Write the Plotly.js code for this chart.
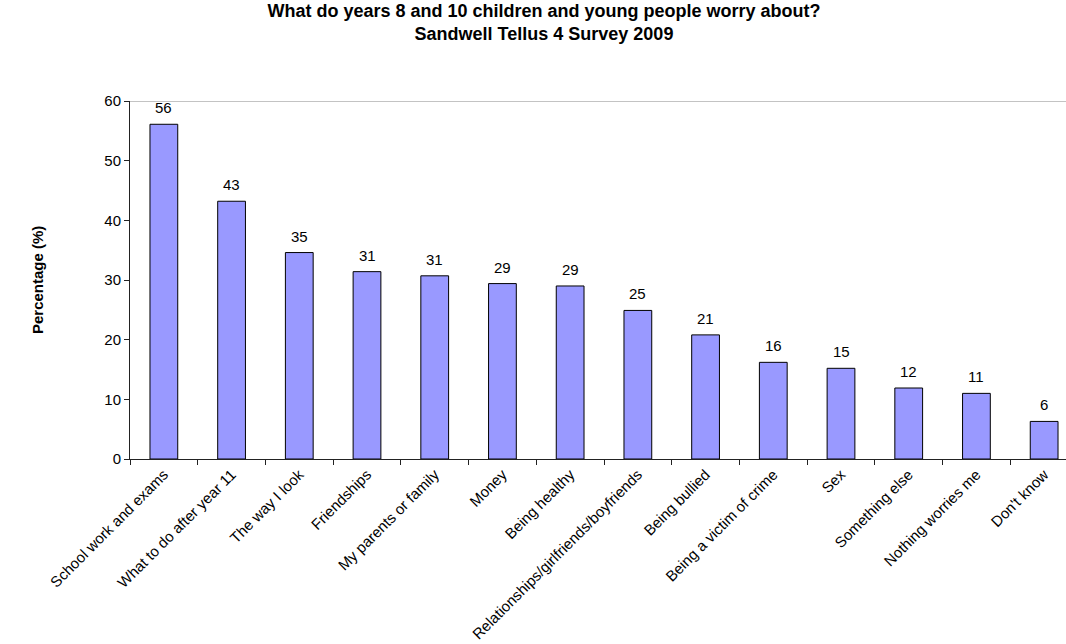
<!DOCTYPE html>
<html>
<head>
<meta charset="utf-8">
<script src="https://cdn.plot.ly/plotly-3.0.1.min.js"></script>
<style>
html,body{margin:0;padding:0;overflow:hidden;background:#fff;width:1066px;height:644px;}
#chart{width:1090px;height:644px;}
</style>
</head>
<body>
<div id="chart"></div>
<script>
const categories = [
  "School work and exams",
  "What to do after year 11",
  "The way I look",
  "Friendships",
  "My parents or family",
  "Money",
  "Being healthy",
  "Relationships/girlfriends/boyfriends",
  "Being bullied",
  "Being a victim of crime",
  "Sex",
  "Something else",
  "Nothing worries me",
  "Don't know"
];
const values = [56.1, 43.2, 34.6, 31.4, 30.7, 29.4, 29.0, 24.9, 20.8, 16.2, 15.2, 11.9, 11.0, 6.3];
const valueLabels = ["56","43","35","31","31","29","29","25","21","16","15","12","11","6"];
const yTicks = [0, 10, 20, 30, 40, 50, 60];
const yMax = 60;

const FONT = "Liberation Sans, Arial, sans-serif";

const trace = {
  type: "bar",
  x: categories,
  y: values,
  marker: {color: "#9999FF", line: {color: "#000000", width: 1}},
  hoverinfo: "skip"
};

const annotations = categories.map((c, i) => ({
  x: c, y: values[i], xref: "x", yref: "y",
  text: valueLabels[i], showarrow: false,
  yanchor: "bottom", yshift: 6,
  font: {family: FONT, size: 15, color: "#000"}
}));
annotations.push({
  xref: "paper", yref: "paper",
  x: (37 - 130) / (1078 - 130), y: 0.5,
  xanchor: "center", yanchor: "middle",
  text: "<b>Percentage (%)</b>", textangle: -90, showarrow: false,
  font: {family: FONT, size: 15, color: "#000"}
});

const layout = {
  width: 1090, height: 644,
  margin: {l: 130, r: 12, t: 101, b: 185},
  paper_bgcolor: "#fff", plot_bgcolor: "#fff",
  bargap: 0.59,
  showlegend: false,
  title: {
    text: "<b>What do years 8 and 10 children and young people worry about?<br>Sandwell Tellus 4 Survey 2009</b>",
    font: {family: FONT, size: 18, color: "#000"},
    xref: "container", x: 544 / 1090, xanchor: "center",
    yref: "container", y: 1 - 17 / 644, yanchor: "top"
  },
  xaxis: {
    type: "category",
    tickangle: -45,
    ticks: "outside", tickson: "boundaries", ticklen: 5, tickcolor: "#222",
    showline: true, linecolor: "#222", linewidth: 1,
    tickfont: {family: FONT, size: 15, color: "#000"},
    showgrid: false, zeroline: false, automargin: false
  },
  yaxis: {
    range: [0, yMax], tickvals: yTicks,
    ticks: "outside", ticklen: 5, tickcolor: "#222",
    showline: true, linecolor: "#222", linewidth: 1,
    tickfont: {family: FONT, size: 15, color: "#000"},
    showgrid: false, zeroline: false, automargin: false
  },
  shapes: [{
    type: "line", xref: "paper", yref: "y",
    x0: 0, x1: 1, y0: yMax, y1: yMax,
    line: {color: "#888", width: 1}
  }],
  annotations: annotations
};

Plotly.newPlot("chart", [trace], layout, {displayModeBar: false, staticPlot: true});
</script>
</body>
</html>
